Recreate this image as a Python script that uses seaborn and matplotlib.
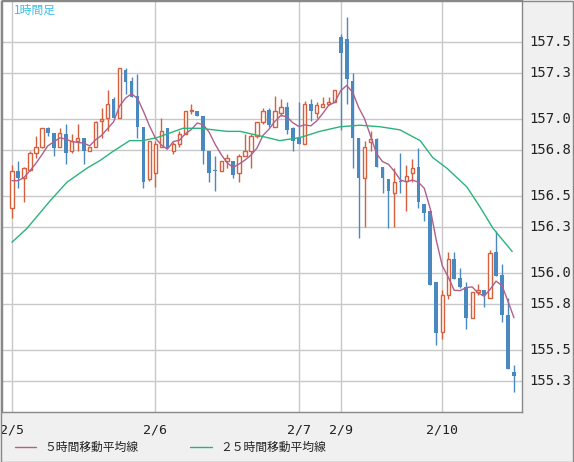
import numpy as np
import pandas as pd
import matplotlib
matplotlib.use("Agg")
import matplotlib.pyplot as plt
import seaborn as sns
from matplotlib.patches import Rectangle

# 1時間足 OHLC (2/5 〜 2/10)
opens = [156.42, 156.66, 156.62, 156.67, 156.78, 156.82, 156.94, 156.91, 156.82, 156.90,
         156.79, 156.86, 156.88, 156.79, 156.82, 156.99, 157.01, 157.13, 157.01, 157.32,
         157.25, 157.15, 156.95, 156.61, 156.65, 156.82, 156.94, 156.79, 156.84, 156.90,
         157.05, 157.05, 157.02, 156.79, 156.67, 156.66, 156.73, 156.73, 156.65, 156.76,
         156.79, 156.89, 156.98, 157.06, 156.95, 157.04, 157.08, 156.94, 156.88, 156.84,
         157.10, 157.04, 157.08, 157.10, 157.11, 157.53, 157.52, 157.25, 156.88, 156.62,
         156.85, 156.87, 156.69, 156.61, 156.52, 156.60, 156.60, 156.65, 156.69, 156.45,
         156.40, 155.94, 155.62, 155.86, 156.09, 155.97, 155.91, 155.71, 155.88, 155.89,
         155.84, 156.14, 155.99, 155.73, 155.36]
highs = [156.70, 156.73, 156.69, 156.79, 156.89, 156.94, 156.95, 156.91, 156.94, 156.97,
         156.90, 156.97, 156.88, 156.82, 156.99, 157.07, 157.19, 157.14, 157.33, 157.33,
         157.27, 157.29, 156.95, 156.86, 156.86, 157.01, 156.94, 156.85, 156.92, 157.05,
         157.10, 157.05, 157.02, 156.79, 156.76, 156.73, 156.77, 156.73, 156.77, 156.90,
         156.90, 156.98, 157.07, 157.07, 157.15, 157.13, 157.11, 156.95, 157.11, 157.12,
         157.13, 157.11, 157.14, 157.14, 157.19, 157.55, 157.66, 157.30, 156.88, 156.86,
         156.92, 156.88, 156.69, 156.61, 156.68, 156.78, 156.70, 156.74, 156.81, 156.45,
         156.41, 155.94, 155.89, 156.14, 156.14, 156.03, 155.94, 155.88, 155.93, 155.89,
         156.15, 156.27, 156.06, 155.84, 155.40]
lows = [156.36, 156.55, 156.46, 156.66, 156.75, 156.81, 156.89, 156.76, 156.82, 156.71,
        156.78, 156.79, 156.71, 156.79, 156.82, 156.88, 156.92, 157.01, 157.01, 157.16,
        157.14, 156.88, 156.55, 156.60, 156.56, 156.82, 156.81, 156.77, 156.82, 156.90,
        157.03, 157.02, 156.71, 156.59, 156.53, 156.66, 156.68, 156.62, 156.59, 156.76,
        156.68, 156.88, 156.97, 156.95, 156.95, 157.02, 156.90, 156.79, 156.84, 156.84,
        156.99, 157.01, 157.08, 157.09, 157.11, 156.93, 157.10, 156.68, 156.23, 156.30,
        156.79, 156.69, 156.52, 156.29, 156.30, 156.52, 156.40, 156.59, 156.42, 156.34,
        155.92, 155.53, 155.57, 155.83, 155.96, 155.90, 155.64, 155.71, 155.86, 155.78,
        155.84, 155.98, 155.68, 155.38, 155.23]
closes = [156.66, 156.62, 156.68, 156.78, 156.82, 156.94, 156.91, 156.81, 156.91, 156.78,
          156.86, 156.88, 156.79, 156.82, 156.98, 157.00, 157.10, 157.01, 157.33, 157.24,
          157.14, 156.95, 156.59, 156.86, 156.84, 156.92, 156.81, 156.84, 156.90, 157.05,
          157.06, 157.02, 156.79, 156.65, 156.66, 156.73, 156.75, 156.64, 156.76, 156.79,
          156.89, 156.98, 157.05, 156.96, 157.05, 157.08, 156.93, 156.86, 156.84, 157.10,
          157.05, 157.09, 157.10, 157.11, 157.19, 157.43, 157.26, 156.88, 156.62, 156.82,
          156.87, 156.69, 156.62, 156.53, 156.59, 156.59, 156.63, 156.68, 156.46, 156.39,
          155.92, 155.61, 155.86, 156.09, 155.96, 155.91, 155.71, 155.88, 155.89, 155.86,
          156.13, 155.98, 155.73, 155.38, 155.33]
prev_closes = [156.62, 156.58, 156.56, 156.58]  # 表示範囲より前の終値（MA5用）

# 25時間移動平均線（読み取り値）
ma25_idx = [0, 2.5, 6.4, 9.2, 12.5, 14.7, 16.9, 19.7, 21.9, 24.3, 28.6, 31.5, 36, 38.2,
            42.7, 44.8, 48.2, 51.5, 54.9, 58.2, 61.6, 64.9, 68.3, 70.4, 72.8, 76.1,
            78.3, 80.5, 83.7]
ma25_val = [156.20, 156.29, 156.47, 156.59, 156.68, 156.73, 156.79, 156.86, 156.86, 156.88,
            156.94, 156.94, 156.92, 156.92, 156.88, 156.86, 156.88, 156.92, 156.95, 156.96,
            156.95, 156.93, 156.86, 156.75, 156.68, 156.56, 156.43, 156.29, 156.14]

date_labels = ["2/5", "2/6", "2/7", "2/9", "2/10"]
date_idx = [0, 24, 48, 55, 72]
y_ticks = [157.5, 157.3, 157.0, 156.8, 156.5, 156.3, 156.0, 155.8, 155.5, 155.3]

sns.set_style("white")
plt.rcParams['font.family'] = ['Noto Sans CJK JP', 'DejaVu Sans']

df = pd.DataFrame({"open": opens, "high": highs, "low": lows, "close": closes})
df["idx"] = np.arange(len(df))
all_close = pd.Series(prev_closes + closes)
df["ma5"] = all_close.rolling(5).mean().iloc[len(prev_closes):].values
ma25 = pd.DataFrame({"idx": ma25_idx, "ma25": ma25_val})

RED = "#d6603c"
BLUE = "#4a89c0"
C_MA5 = "#b0608e"
C_MA25 = "#2bb37c"

W, H = 574, 462
fig = plt.figure(figsize=(W / 100, H / 100), dpi=100, facecolor="#f0f0f0")
ax = fig.add_axes([2 / W, 50 / H, 520 / W, 412 / H])
ax.set_facecolor("white")

for v in y_ticks:
    ax.axhline(v, color="#c8c8c8", lw=1, zorder=0)
for v in date_idx:
    ax.axvline(v, color="#c8c8c8", lw=1, zorder=0)

up = df[df.close >= df.open]
dn = df[df.close < df.open]
ax.vlines(up.idx, up.low, up.high, color=RED, lw=1, zorder=2)
ax.vlines(dn.idx, dn.low, dn.high, color=BLUE, lw=1, zorder=2)
ax.bar(up.idx, (up.close - up.open).clip(lower=0.004), bottom=up.open, width=0.55,
       facecolor="white", edgecolor=RED, lw=1, zorder=3)
ax.bar(dn.idx, dn.open - dn.close, bottom=dn.close, width=0.62,
       color=BLUE, lw=0, zorder=3)

sns.lineplot(data=df, x="idx", y="ma5", ax=ax, color=C_MA5, lw=1, zorder=4)
sns.lineplot(data=ma25, x="idx", y="ma25", ax=ax, color=C_MA25, lw=1, zorder=4)

ax.set_xlim(-1.67, 85.34)
ax.set_ylim(155.098, 157.773)
ax.set_xticks([])
ax.set_yticks([])
ax.set_xlabel("")
ax.set_ylabel("")
for s in ax.spines.values():
    s.set_color("#888888")
    s.set_linewidth(1)

ax.text(12 / 520, 1 - 10 / 412, "1時間足", transform=ax.transAxes, color="#3cbfe8",
        fontsize=8.5, va="center", ha="left")

for v in y_ticks:
    ax.annotate(f"{v:.1f}", (1, v), xycoords=("axes fraction", "data"),
                xytext=(5, 0), textcoords="offset points", va="center", ha="left",
                fontsize=10, family="DejaVu Sans Mono", color="#222222")
for lab, i in zip(date_labels, date_idx):
    ax.annotate(lab, (i, 0), xycoords=("data", "axes fraction"),
                xytext=(0, -13), textcoords="offset points", va="center", ha="center",
                fontsize=9.5, family="DejaVu Sans Mono", color="#222222")

# 凡例
fig.lines.append(plt.Line2D([15 / W, 36 / W], [1 - 447 / H] * 2, color=C_MA5, lw=1,
                            transform=fig.transFigure))
fig.text(44 / W, 1 - 447 / H, "５時間移動平均線", fontsize=8.5, va="center", color="#222222")
fig.lines.append(plt.Line2D([190 / W, 212 / W], [1 - 447 / H] * 2, color=C_MA25, lw=1,
                            transform=fig.transFigure))
fig.text(220 / W, 1 - 447 / H, "２５時間移動平均線", fontsize=8.5, va="center", color="#222222")

fig.patches.append(Rectangle((0.5 / W, 0.5 / H), 1 - 1.5 / W, 1 - 1.5 / H, fill=False,
                             edgecolor="#888888", lw=1, transform=fig.transFigure))

fig.savefig("out.png", dpi=100, facecolor=fig.get_facecolor())
